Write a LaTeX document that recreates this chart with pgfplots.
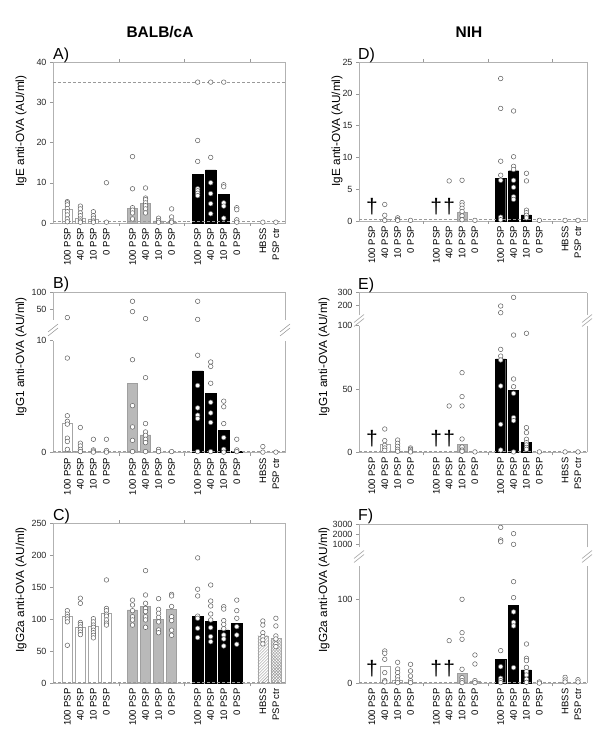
\documentclass[border=0pt]{standalone}
\usepackage{fontspec}
\setmainfont{Liberation Sans}
\usepackage{pgfplots}
\pgfplotsset{compat=1.18}
\usepackage{pgfplotstable}
\usetikzlibrary{patterns}

\newcommand\fsz[1]{\fontsize{#1}{#1}\selectfont}

% single animals, x = group position, y = AU/ml
\pgfplotstableread{
x y
0 5.3
0 5.0
0 4.5
0 3.6
0 2.8
0 2.0
0 1.0
0 0.3
1 4.2
1 3.5
1 2.5
1 1.8
1 1.0
1 0.5
1 0.2
2 2.8
2 1.8
2 1.2
2 0.5
2 0.2
3 10.0
3 0.2
5 16.5
5 8.5
5 3.8
5 3.2
5 2.5
5 1.0
6 8.7
6 6.2
6 5.8
6 5.0
6 4.3
6 3.5
6 2.5
7 1.2
7 0.6
7 0.2
8 3.5
8 1.5
8 0.5
8 0.2
10 35
10 20.5
10 15.3
10 8.5
10 8.0
10 7.4
10 6.8
11 35
11 16.3
11 10.0
11 7.3
11 4.8
11 2.3
12 35
12 9.5
12 9.0
12 5.0
12 4.2
12 1.2
13 3.8
13 3.3
13 0.8
13 0.2
15 0.2
16 0.2
}\ptsA

\pgfplotstableread{
x y
1 2.6
1 0.9
1 0.1
2 0.5
2 0.2
2 0.1
3 0.1
6 6.3
7 6.4
7 2.9
7 2.5
7 2.0
7 1.5
7 0.8
7 0.2
8 0.1
10 22.4
10 17.7
10 9.4
10 7.2
10 6.4
10 0.6
10 0.2
11 17.3
11 10.1
11 8.6
11 8.1
11 6.4
11 5.3
11 3.8
11 3.4
12 7.5
12 6.3
12 1.7
12 1.3
12 0.9
12 0.5
13 0.1
15 0.1
16 0.1
}\ptsD

\pgfplotstableread{
x y
0 27
0 8.45
0 3.3
0 2.8
0 2.55
0 1.3
0 1.0
0 0.3
1 2.25
1 0.85
1 0.6
1 0.3
1 0.1
2 1.2
2 0.25
2 0.15
2 0.05
3 1.2
3 0.2
3 0.05
5 73.5
5 44
5 8.3
5 4.2
5 2.3
5 1.1
5 0.1
6 24
6 6.7
6 2.6
6 1.85
6 1.55
6 1.2
6 0.9
6 0.1
7 0.3
7 0.1
8 0.1
10 73.5
10 21.7
10 8.7
10 6.0
10 4.0
10 3.35
10 3.05
10 0.1
11 8.1
11 7.7
11 6.2
11 4.5
11 3.55
11 2.7
11 0.1
12 4.6
12 4.1
12 2.6
12 1.35
12 0.3
12 0.05
13 1.2
13 0.25
13 0.1
15 0.55
15 0.05
16 0.05
}\ptsB

\pgfplotstableread{
x y
1 18.4
1 9.2
1 5.5
1 3.4
1 1.6
2 9.7
2 7.1
2 4.7
2 2.4
2 0.8
3 3.4
3 2.4
3 1.1
3 0.3
6 36.6
7 62.9
7 44
7 36.6
7 10.5
7 4.2
7 1.8
7 0.8
8 0.3
10 195
10 142
10 81.3
10 76
10 72.9
10 52.4
10 22.1
10 1.8
11 263
11 92.6
11 57.9
11 51.8
11 46.6
11 27.4
11 25
11 0.3
12 94
12 19.5
12 15.5
12 10.3
12 7.6
12 5.8
12 3.9
12 2.4
13 0.3
15 0.3
16 0.3
}\ptsE

\pgfplotstableread{
x y
0 113.5
0 108
0 104
0 100.5
0 96
0 59.4
1 133
1 125
1 95
1 92
1 88
1 84
1 80
1 76
2 101
2 96
2 91
2 87.5
2 83
2 79
2 75
2 71
3 161.5
3 117
3 113.5
3 108
3 105
3 99
3 94
3 91
5 130
5 122.4
5 113.5
5 104
5 99
5 91
6 176
6 138
6 125
6 117
6 112
6 104
6 99
6 87.5
7 132.3
7 115.6
7 109.4
7 103
7 96
7 83.3
7 79
8 139
8 136.5
8 120
8 104
8 98
8 83
8 75
10 196
10 147
10 136.5
10 105
10 101.6
10 86
10 71.4
11 153.6
11 128.6
11 120.8
11 108.3
11 99
11 87
11 73
11 65
12 119.8
12 116
12 98
12 92
12 85.4
12 75.5
12 69.3
12 58.3
13 130
13 113.5
13 101.6
13 88.5
13 75.5
13 61
15 97.4
15 91
15 79
15 73
15 67.7
15 61.5
16 101.6
16 89.6
16 74
16 69.3
16 61.5
16 57.3
}\ptsC

\pgfplotstableread{
x y
1 38.5
1 35.7
1 28.6
1 12.7
1 3.2
1 1.6
2 25
2 17
2 12.7
2 7.9
2 4
2 0.8
3 22.6
3 14.7
3 8.7
3 3.2
3 0.8
6 50.8
7 100
7 60.3
7 52.4
7 16.7
7 6.7
7 3.2
7 0.8
8 33.7
8 23
8 3.2
8 0.8
10 2670
10 1430
10 1260
10 38.9
10 19.8
10 6
10 3.2
10 0.8
11 2050
11 1000
11 121
11 102
11 85
11 72.6
11 68.3
11 18.7
12 46.8
12 29.8
12 27
12 19
12 13.9
12 9.9
12 4.8
12 1.2
13 1.6
13 0.2
15 7.1
15 4
15 1.6
16 4.4
16 1.6
}\ptsF

\pgfplotsset{
  panel/.style={
    scale only axis, clip=false,
    xmin=-1.1, xmax=16.7,
    axis line style={draw=gray!60},
    tick style={draw=gray!80, thin},
    tick align=outside, major tick length=3bp,
    yticklabel style={font={\fsz{9}}, text=black!85},
    /pgf/number format/assume math mode=true,
    /pgf/number format/1000 sep={},
    xtick={0,1,2,3,5,6,7,8,10,11,12,13,15,16},
    xticklabels={100 PSP,40 PSP,10 PSP,0 PSP,100 PSP,40 PSP,10 PSP,0 PSP,100 PSP,40 PSP,10 PSP,0 PSP,HBSS,PSP ctr},
    xticklabel style={rotate=90, anchor=east, font={\fsz{9.5}}, inner sep=2bp},
    major x tick style={draw=none},
    extra x ticks={4,9,14}, extra x tick labels={},
    extra x tick style={major x tick style={draw=gray!80, thin}},
    ytick pos=left,
  },
  lower/.style={panel, axis x line*=bottom, axis y line*=box, ytick pos=left},
  upper/.style={panel, axis x line*=top, axis y line*=box, ytick pos=left,
    xtick=\empty, xticklabels={}, extra x ticks={}},
  g1/.style={ybar, bar shift=0pt, bar width=0.78, fill=white, draw=gray!70},
  g2/.style={ybar, bar shift=0pt, bar width=0.78, fill=gray!55, draw=gray!75},
  g3/.style={ybar, bar shift=0pt, bar width=0.78, fill=black, draw=black},
  hb/.style={ybar, bar shift=0pt, bar width=0.78, pattern=north east lines, pattern color=gray!80, draw=gray!70},
  pc/.style={ybar, bar shift=0pt, bar width=0.78, pattern=crosshatch, pattern color=gray!80, draw=gray!70},
  pts/.style={only marks, mark=*, mark size=2.3bp,
    mark options={fill=white, draw=gray!75!black, line width=0.5bp}},
  lod/.style={densely dashed, gray!80, line width=0.5bp},
  dag/.style={draw=none, nodes near coords={\fsz{21}†},
    every node near coord/.append style={anchor=center, inner sep=0pt, text=black}},
}

% axis break: two short parallel slashes centred at (x,y)
\newcommand\brk[2]{%
  \draw[gray!75, line width=0.6bp] (#1bp,#2bp) ++(-5bp,-6bp) -- ++(10bp,8bp);
  \draw[gray!75, line width=0.6bp] (#1bp,#2bp) ++(-5bp,-2bp) -- ++(10bp,8bp);}

\begin{document}
\begin{tikzpicture}
\path[use as bounding box] (0,0) rectangle (600bp,750bp);

% ---------- titles ----------
\node[font={\fsz{15.5}\bfseries}] at (160bp,718bp) {BALB/cA};
\node[font={\fsz{15.5}\bfseries}] at (469bp,718bp) {NIH};

% ---------- A ----------
\begin{axis}[panel, at={(53bp,527bp)}, anchor=south west, width=232bp, height=161bp,
  ymin=0, ymax=40, ytick={0,10,20,30,40}]
\addplot[g1] coordinates {(0,3.5) (1,1.2) (2,0.9)};
\addplot[g2] coordinates {(5,3.6) (6,4.8) (7,0.5) (8,0.3)};
\addplot[g3] coordinates {(10,12.0) (11,13.2) (12,7.2)};
\addplot[lod] coordinates {(-1.1,35) (16.7,35)};
\addplot[lod] coordinates {(-1.1,0.5) (16.7,0.5)};
\addplot[pts] table {\ptsA};
\end{axis}

% ---------- D ----------
\begin{axis}[panel, at={(359bp,529bp)}, anchor=south west, width=228bp, height=159bp,
  xmin=-1, ymin=0, ymax=25, ytick={0,5,10,15,20,25}]
\addplot[g1] coordinates {(1,0.3)};
\addplot[g2] coordinates {(7,1.4)};
\addplot[g3] coordinates {(10,6.7) (11,7.9) (12,0.95)};
\addplot[lod] coordinates {(-1,0.3) (16.7,0.3)};
\addplot[pts] table {\ptsD};
\addplot[dag] coordinates {(0,2.3) (5,2.3) (6,2.3)};
\end{axis}

% ---------- B (broken axis) ----------
\begin{axis}[lower, at={(53bp,297.3bp)}, anchor=south west, width=232bp, height=112bp,
  ymin=0, ymax=10, ytick={0,10}]
\addplot[g1] coordinates {(0,2.6) (1,0.15) (2,0.1)};
\addplot[g2] coordinates {(5,6.2) (6,1.6)};
\addplot[g3] coordinates {(10,7.3) (11,5.3) (12,2.0) (13,0.1)};
\addplot[lod] coordinates {(-1.1,0.1) (16.7,0.1)};
\addplot[pts, restrict y to domain=-1:10.5] table {\ptsB};
\end{axis}
\begin{axis}[upper, at={(53bp,430bp)}, anchor=south west, width=232bp, height=28bp,
  ymin=20, ymax=100, ytick={50,100}]
\addplot[pts, restrict y to domain=15:200] table {\ptsB};
\end{axis}
\brk{53}{420}\brk{285}{420}

% ---------- E (broken axis) ----------
\begin{axis}[lower, at={(359bp,297.7bp)}, anchor=south west, width=228bp, height=126.6bp,
  xmin=-1, ymin=0, ymax=100, ytick={0,50,100}]
\addplot[g1] coordinates {(1,6.3) (2,1.0) (3,0.5)};
\addplot[g2] coordinates {(7,6.6)};
\addplot[g3] coordinates {(10,73.7) (11,49.2) (12,7.6)};
\addplot[lod] coordinates {(-1,1) (16.7,1)};
\addplot[pts, restrict y to domain=-1:105] table {\ptsE};
\addplot[dag] coordinates {(0,11) (5,11) (6,11)};
\end{axis}
\begin{axis}[upper, at={(359bp,434.5bp)}, anchor=south west, width=228bp, height=22.8bp,
  xmin=-1, ymin=120, ymax=300, ytick={200,300}]
\addplot[pts, restrict y to domain=110:400] table {\ptsE};
\end{axis}
\brk{359}{429.5}\brk{587}{429.5}

% ---------- C ----------
\begin{axis}[panel, at={(53bp,66.7bp)}, anchor=south west, width=232bp, height=160bp,
  ymin=0, ymax=250, ytick={0,50,100,150,200,250}]
\addplot[g1] coordinates {(0,105.2) (1,87) (2,89.6) (3,109.4)};
\addplot[g2] coordinates {(5,114.6) (6,119.8) (7,100) (8,116)};
\addplot[g3] coordinates {(10,105) (11,96.4) (12,83.3) (13,93.75)};
\addplot[hb] coordinates {(15,74)};
\addplot[pc] coordinates {(16,70.3)};
\addplot[lod] coordinates {(-1.1,2) (16.7,2)};
\addplot[pts] table {\ptsC};
\end{axis}

% ---------- F (broken axis) ----------
\begin{axis}[lower, at={(359bp,66.7bp)}, anchor=south west, width=228bp, height=117.6bp,
  xmin=-1, ymin=0, ymax=140, ytick={0,100}]
\addplot[g1] coordinates {(1,20.6) (2,4) (3,1)};
\addplot[g2] coordinates {(7,11.5) (8,2.5)};
\addplot[g3] coordinates {(10,28.6) (11,92.9) (12,15.9)};
\addplot[hb] coordinates {(15,1)};
\addplot[lod] coordinates {(-1,1.5) (16.7,1.5)};
\addplot[pts, restrict y to domain=-1:145] table {\ptsF};
\addplot[dag] coordinates {(0,17.9) (5,17.9) (6,17.9)};
\end{axis}
\begin{axis}[upper, at={(359bp,202.6bp)}, anchor=south west, width=228bp, height=23.4bp,
  xmin=-1, ymin=700, ymax=3000, ytick={1000,2000,3000}]
\addplot[pts, restrict y to domain=600:4000] table {\ptsF};
\end{axis}
\brk{359}{193.5}\brk{587}{193.5}

% ---------- panel letters and y labels ----------
\begin{scope}[every node/.style={font={\fsz{16}}, anchor=west, inner sep=0pt}]
\node at (53bp,695bp) {A)};
\node at (358bp,695bp) {D)};
\node at (53bp,466bp) {B)};
\node at (358bp,465bp) {E)};
\node at (53bp,234bp) {C)};
\node at (358bp,234bp) {F)};
\end{scope}
\begin{scope}[every node/.style={font={\fsz{11.8}}, rotate=90, anchor=center}]
\node at (21bp,619bp) {IgE anti-OVA (AU/ml)};
\node at (337bp,619bp) {IgE anti-OVA (AU/ml)};
\node at (21bp,393bp) {IgG1 anti-OVA (AU/ml)};
\node at (324bp,393bp) {IgG1 anti-OVA (AU/ml)};
\node at (21bp,160bp) {IgG2a anti-OVA (AU/ml)};
\node at (324bp,160bp) {IgG2a anti-OVA (AU/ml)};
\end{scope}
\end{tikzpicture}
\end{document}
